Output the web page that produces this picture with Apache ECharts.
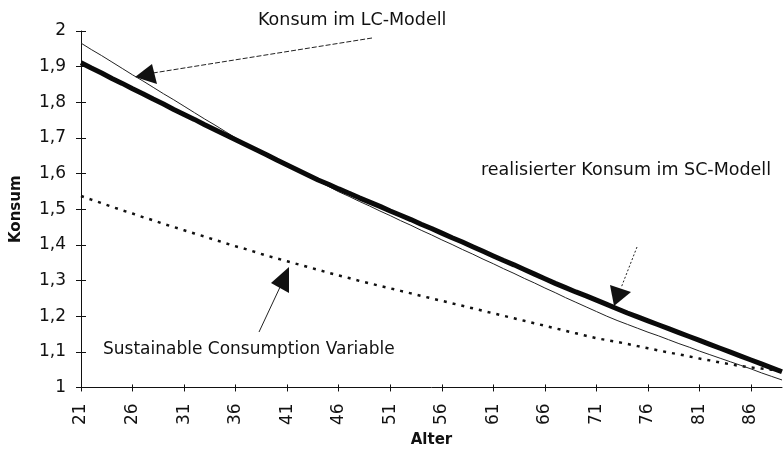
<!DOCTYPE html>
<html>
<head>
<meta charset="utf-8">
<script src="https://cdn.jsdelivr.net/npm/echarts@6/dist/echarts.min.js"></script>
<style>
  html, body { margin: 0; padding: 0; background: #fff; }
  #chart { width: 783px; height: 453px; }
</style>
</head>
<body>
<div id="chart"></div>
<script>
// Alter 21 .. 89
var ages = []
for (var a = 21; a <= 89; a++) ages.push(String(a))

// realisierter Konsum im SC-Modell (dicke Linie)
var scKonsum = [
  1.911, 1.896, 1.882, 1.867, 1.853, 1.838, 1.824, 1.809, 1.795, 1.780,
  1.766, 1.752, 1.737, 1.723, 1.709, 1.695, 1.681, 1.667, 1.653, 1.638,
  1.624, 1.610, 1.596, 1.582, 1.570, 1.557, 1.545, 1.532, 1.520, 1.508,
  1.495, 1.483, 1.471, 1.458, 1.446, 1.433, 1.420, 1.408, 1.395, 1.382,
  1.369, 1.356, 1.344, 1.331, 1.318, 1.305, 1.292, 1.280, 1.268, 1.257,
  1.245, 1.233, 1.221, 1.209, 1.198, 1.187, 1.176, 1.165, 1.154, 1.143,
  1.132, 1.121, 1.110, 1.099, 1.088, 1.077, 1.066, 1.055, 1.044
]

// Konsum im LC-Modell (duenne Linie)
var lcKonsum = [
  1.966, 1.948, 1.931, 1.913, 1.895, 1.877, 1.860, 1.842, 1.824, 1.807,
  1.789, 1.771, 1.753, 1.736, 1.718, 1.700, 1.685, 1.670, 1.655, 1.640,
  1.624, 1.609, 1.594, 1.579, 1.564, 1.549, 1.536, 1.522, 1.509, 1.495,
  1.482, 1.468, 1.455, 1.441, 1.428, 1.414, 1.401, 1.387, 1.374, 1.360,
  1.347, 1.333, 1.320, 1.306, 1.293, 1.279, 1.266, 1.252, 1.239, 1.226,
  1.213, 1.200, 1.188, 1.177, 1.166, 1.155, 1.145, 1.134, 1.123, 1.113,
  1.102, 1.092, 1.082, 1.072, 1.062, 1.052, 1.041, 1.031, 1.021
]

// Sustainable Consumption Variable (punktiert)
var scVariable = [
  1.537, 1.527, 1.517, 1.507, 1.497, 1.488, 1.478, 1.469, 1.459, 1.450,
  1.441, 1.432, 1.423, 1.414, 1.405, 1.396, 1.388, 1.379, 1.370, 1.362,
  1.354, 1.346, 1.338, 1.330, 1.322, 1.314, 1.307, 1.299, 1.292, 1.285,
  1.278, 1.271, 1.264, 1.257, 1.250, 1.243, 1.236, 1.229, 1.222, 1.215,
  1.208, 1.201, 1.194, 1.187, 1.180, 1.173, 1.166, 1.159, 1.152, 1.145,
  1.138, 1.133, 1.128, 1.122, 1.116, 1.110, 1.104, 1.098, 1.093, 1.087,
  1.081, 1.076, 1.070, 1.065, 1.060, 1.056, 1.053, 1.050, 1.048
]

var font = 'DejaVu Sans'

function arrow (tail, base, tip, side1, side2, dash) {
  return [
    {
      type: 'line',
      shape: { x1: tail[0], y1: tail[1], x2: base[0], y2: base[1] },
      style: { stroke: '#222', lineWidth: 1, lineDash: dash }
    },
    {
      type: 'polygon',
      shape: { points: [tip, side1, side2] },
      style: { fill: '#111' }
    }
  ]
}

var myChart = echarts.init(document.getElementById('chart'))
var option = {
  animation: false,
  backgroundColor: '#fff',
  grid: { left: 81, right: 1, top: 31, bottom: 57 },
  xAxis: [
    {
      type: 'category',
      data: ages,
      boundaryGap: false,
      position: 'bottom',
      name: 'Alter',
      nameLocation: 'middle',
      nameGap: 42,
      nameTextStyle: { fontFamily: font, fontWeight: 'bold', fontSize: 15, color: '#111' },
      axisLine: { lineStyle: { color: '#111', width: 1 } },
      axisTick: { interval: 4, length: 4, lineStyle: { color: '#111' } },
      axisLabel: { interval: 4, rotate: 90, margin: 16, fontFamily: font, fontSize: 17, color: '#111' },
      splitLine: { show: false }
    },
    {
      type: 'category',
      data: ages,
      boundaryGap: false,
      position: 'bottom',
      axisLine: { show: false },
      axisTick: { inside: true, interval: 4, length: 3, lineStyle: { color: '#111' } },
      axisLabel: { show: false },
      splitLine: { show: false }
    }
  ],
  yAxis: [
    {
      type: 'value',
      min: 1,
      max: 2,
      interval: 0.1,
      position: 'left',
      name: 'Konsum',
      nameLocation: 'middle',
      nameGap: 57,
      nameTextStyle: { fontFamily: font, fontWeight: 'bold', fontSize: 15, color: '#111' },
      axisLine: { show: true, lineStyle: { color: '#111', width: 1 } },
      axisTick: { show: true, length: 5, lineStyle: { color: '#111' } },
      axisLabel: {
        margin: 15,
        fontFamily: font,
        fontSize: 17,
        color: '#111',
        formatter: function (v) { return String(Math.round(v * 10) / 10).replace('.', ',') }
      },
      splitLine: { show: false }
    },
    {
      type: 'value',
      min: 1,
      max: 2,
      interval: 0.1,
      position: 'left',
      axisLine: { show: false },
      axisTick: { show: true, inside: true, length: 5, lineStyle: { color: '#111' } },
      axisLabel: { show: false },
      splitLine: { show: false }
    }
  ],
  series: [
    {
      name: 'Konsum im LC-Modell',
      type: 'line',
      data: lcKonsum,
      showSymbol: false,
      lineStyle: { color: '#222', width: 1 },
      z: 3
    },
    {
      name: 'Sustainable Consumption Variable',
      type: 'line',
      data: scVariable,
      showSymbol: false,
      lineStyle: { color: '#111', width: 2.5, type: [3, 6], cap: 'butt' },
      z: 2
    },
    {
      name: 'realisierter Konsum im SC-Modell',
      type: 'line',
      data: scKonsum,
      showSymbol: false,
      lineStyle: { color: '#0a0a0a', width: 5 },
      z: 4
    }
  ],
  graphic: [
    { type: 'text', left: 258, top: 11, style: { text: 'Konsum im LC-Modell', font: '17.5px "DejaVu Sans"', fill: '#111' } },
    { type: 'text', left: 481, top: 161, style: { text: 'realisierter Konsum im SC-Modell', font: '17.5px "DejaVu Sans"', fill: '#111' } },
    { type: 'text', left: 103, top: 341, style: { text: 'Sustainable Consumption Variable', font: '17px "DejaVu Sans"', fill: '#111' } }
  ]
    .concat(arrow([372, 38], [153, 73], [135, 77], [152, 64], [157, 84], [5, 2]))
    .concat(arrow([637, 247], [621, 288], [614, 306], [610, 285], [631, 292], [2, 2]))
    .concat(arrow([259, 332], [281, 285], [289, 267], [271, 283], [289, 293], null))
}
myChart.setOption(option)
</script>
</body>
</html>
